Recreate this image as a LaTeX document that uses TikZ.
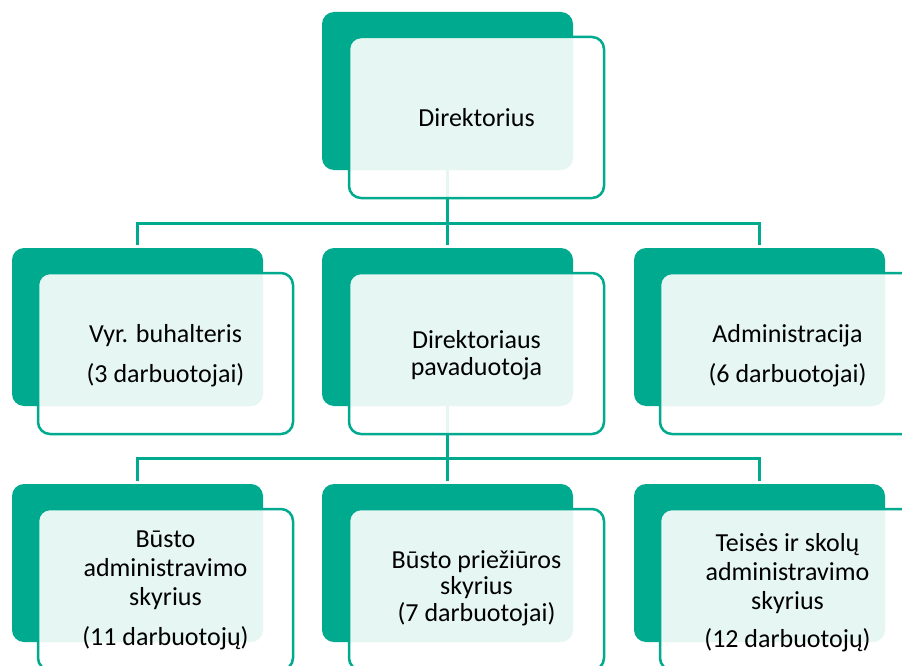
\documentclass[tikz,border=0pt]{standalone}
\usepackage{fontspec}
\setmainfont{Carlito}
\definecolor{teal1}{RGB}{0,170,142}
\tikzset{
  backbox/.style={rectangle, rounded corners=12pt, fill=teal1, inner sep=0pt, outer sep=0pt,
    minimum width=251pt, minimum height=158pt},
  frontbox/.style={rectangle, rounded corners=12pt, fill=white, fill opacity=0.9, draw=teal1,
    draw opacity=1, line width=2.5pt, inner sep=0pt, outer sep=0pt,
    minimum width=255pt, minimum height=161pt},
  conn/.style={draw=teal1, line width=3pt},
  txt/.style={align=center, anchor=base, inner sep=0pt, text=black,
    font=\fontsize{26}{29}\selectfont},
  txtB/.style={txt, font=\fontsize{26}{26.5}\selectfont},
}
\begin{document}
\lineskiplimit=-50pt
\begin{tikzpicture}[x=1pt,y=-1pt]
\useasboundingbox (0,0) rectangle (902,666);
\clip (0,0) rectangle (902,666);
% back boxes
\node[backbox] (bD) at (447.5,91) {};
\node[backbox] (b1) at (137.5,327) {};
\node[backbox] (b2) at (447.5,327) {};
\node[backbox] (b3) at (759.5,327) {};
\node[backbox] (c1) at (137.5,563) {};
\node[backbox] (c2) at (447.5,563) {};
\node[backbox] (c3) at (759.5,563) {};
% connectors
\coordinate (j1) at (447.5,223);
\coordinate (j2) at (447.5,458);
\draw[conn] (bD.south) -- (j1) -| ([yshift=3pt]b1.north);
\draw[conn] (j1) -| ([yshift=3pt]b3.north);
\draw[conn] (j1) -- ([yshift=3pt]b2.north);
\draw[conn] (b2.south) -- (j2) -| ([yshift=3pt]c1.north);
\draw[conn] (j2) -| ([yshift=3pt]c3.north);
\draw[conn] (j2) -- ([yshift=3pt]c2.north);
% front boxes
\node[frontbox] (fD) at (476.5,117.5) {};
\node[frontbox] (f1) at (165.5,353.5) {};
\node[frontbox] (f2) at (476.5,353.5) {};
\node[frontbox] (f3) at (787.5,353.5) {};
\node[frontbox] (g1) at (165.5,589.5) {};
\node[frontbox] (g2) at (476.5,589.5) {};
\node[frontbox] (g3) at (787.5,589.5) {};
% texts (anchor base = last line's baseline)
\node[txt] (tD) at (476.5,127) {Direktorius};
\node[txt] (t1) at (165.5,382) {Vyr. buhalteris\\[11pt](3 darbuotojai)};
\node[txtB] (t2) at (476.5,375) {Direktoriaus\\pavaduotoja};
\node[txt] (t3) at (787.5,382) {Administracija\\[11pt](6 darbuotojai)};
\node[txt] (u1) at (165.5,645) {Būsto\\administravimo\\skyrius\\[11pt](11 darbuotojų)};
\node[txtB] (u2) at (476.5,621) {Būsto priežiūros\\skyrius\\(7 darbuotojai)};
\node[txt] (u3) at (787.5,647) {Teisės ir skolų\\administravimo\\skyrius\\[9pt](12 darbuotojų)};
\end{tikzpicture}
\end{document}
